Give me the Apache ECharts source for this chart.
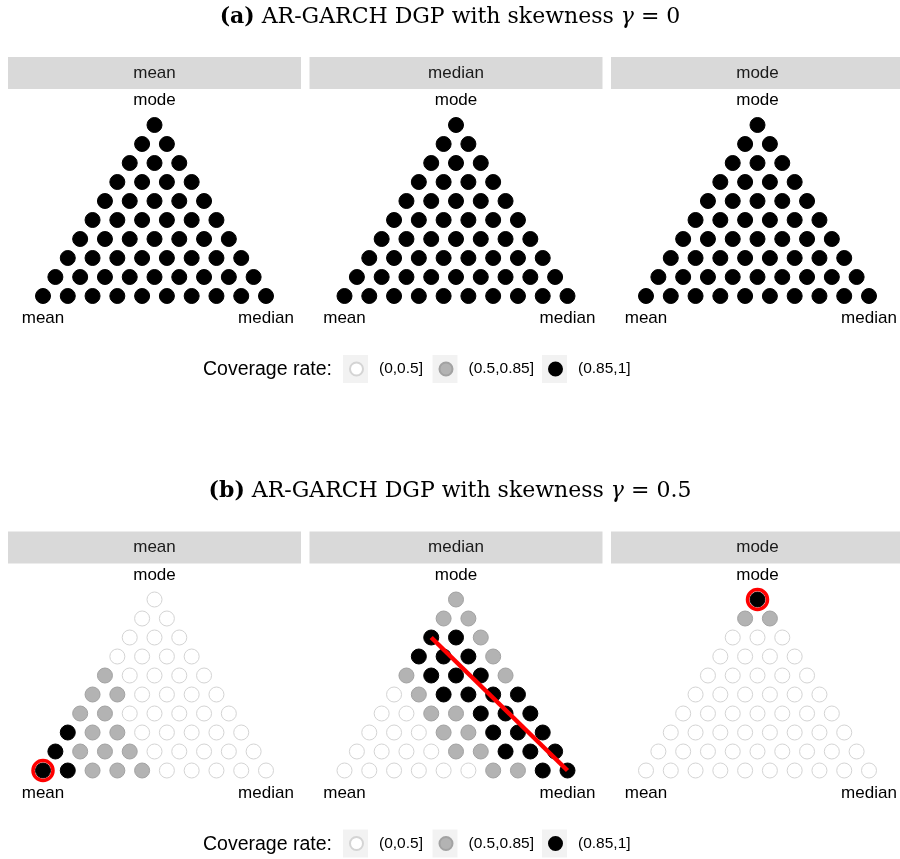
<!DOCTYPE html>
<html>
<head>
<meta charset="utf-8">
<title>Coverage rate triangles</title>
<script src="https://cdn.jsdelivr.net/npm/echarts@6/dist/echarts.min.js"></script>
<style>
  html, body { margin: 0; padding: 0; background: #fff; }
  #chart { width: 900px; height: 859px; }
</style>
</head>
<body>
<div id="chart"></div>
<script>
// coverage-rate classes (legend order)
const levels = ['(0,0.5]', '(0.5,0.85]', '(0.85,1]'];
// facet strips, left to right
const facets = ['mean', 'median', 'mode'];
// corner labels of every triangle
const cornerLeft = 'mean';
const cornerRight = 'median';
const cornerTop = 'mode';
const legendTitle = 'Coverage rate:';
const panelLetters = ['(a)', '(b)'];
const panelTexts = ['AR-GARCH DGP with skewness ', 'AR-GARCH DGP with skewness '];
const panelSkew = ['0', '0.5'];

// class of every dot, one string per row from the mode corner down to the
// mean...median edge; 0 = (0,0.5], 1 = (0.5,0.85], 2 = (0.85,1]
const covA_mean   = ['2','22','222','2222','22222','222222','2222222','22222222','222222222','2222222222'];
const covA_median = ['2','22','222','2222','22222','222222','2222222','22222222','222222222','2222222222'];
const covA_mode   = ['2','22','222','2222','22222','222222','2222222','22222222','222222222','2222222222'];
const covB_mean   = ['0','00','000','0000','10000','110000','1100000','21100000','211100000','2211100000'];
const covB_median = ['1','11','221','2221','12221','012222','0011222','00011222','000011222','0000001122'];
const covB_mode   = ['2','11','000','0000','00000','000000','0000000','00000000','000000000','0000000000'];

// red rings: [panel, facet, row, position in row]
const rings = [[1, 0, 9, 0], [1, 2, 0, 0]];
// red line in panel (b), median facet: two dots [row, position]
const lineFacet = 1;
const lineDots = [[2, 0], [9, 9]];

const covGrids = [
  [covA_mean, covA_median, covA_mode],
  [covB_mean, covB_median, covB_mode]
];

// ternary position of a dot: x = w_median + w_mode / 2, y = w_mode
function dotXY(row, pos) {
  const n = 9;
  return [pos / n + (n - row) / (2 * n), (n - row) / n];
}

const sans = 'Liberation Sans, Arial, Helvetica, sans-serif';
const serif = 'DejaVu Serif, serif';
const dotStyles = [
  { color: '#ffffff', borderColor: '#d4d4d4', borderWidth: 1, opacity: 1 },
  { color: '#b3b3b3', borderColor: '#a2a2a2', borderWidth: 1, opacity: 1 },
  { color: '#000000', borderColor: '#000000', borderWidth: 1, opacity: 1 }
];

// layout
const halfStep = 474.5;
const colStep = 301.5;
const gridLeft0 = 43, gridTop0 = 125, gridW = 223, gridH = 171;
const stripLeft0 = 8, stripTop0 = 57, stripW = 293, stripH = 32;

const grids = [], xAxes = [], yAxes = [], series = [], graphics = [];
const titles = [], legends = [];

for (let h = 0; h < 2; h++) {
  titles.push({
    text: '{b|' + panelLetters[h] + '} ' + panelTexts[h] + '{i|γ} = ' + panelSkew[h],
    left: 'center',
    top: 6 + h * halfStep,
    padding: 0,
    textStyle: {
      fontFamily: serif,
      fontSize: 22,
      fontWeight: 'normal',
      color: '#000',
      rich: {
        b: { fontFamily: serif, fontSize: 22, fontWeight: 'bold', color: '#000' },
        i: { fontFamily: serif, fontSize: 22, fontStyle: 'italic', color: '#000' }
      }
    }
  });
  titles.push({
    text: legendTitle,
    left: 203,
    top: 360 + h * halfStep,
    padding: 0,
    textStyle: { fontFamily: sans, fontSize: 19.5, fontWeight: 'normal', color: '#000' }
  });

  for (let p = 0; p < 3; p++) {
    const g = h * 3 + p;
    grids.push({
      left: gridLeft0 + p * colStep,
      top: gridTop0 + h * halfStep,
      width: gridW,
      height: gridH
    });
    xAxes.push({
      type: 'value', gridIndex: g, position: 'bottom', min: 0, max: 1, interval: 1,
      axisLine: { show: false }, axisTick: { show: false }, splitLine: { show: false },
      axisLabel: {
        margin: 14, fontFamily: sans, fontSize: 17, color: '#000',
        showMinLabel: true, showMaxLabel: true,
        formatter: v => (v === 0 ? cornerLeft : v === 1 ? cornerRight : '')
      }
    });
    yAxes.push({ type: 'value', gridIndex: g, min: 0, max: 1, show: false });

    const rows = covGrids[h][p];
    levels.forEach((name, k) => {
      const data = [];
      rows.forEach((str, r) => {
        for (let j = 0; j < str.length; j++) {
          if (+str[j] === k) data.push(dotXY(r, j));
        }
      });
      series.push({
        name: name, type: 'scatter', xAxisIndex: g, yAxisIndex: g,
        symbol: 'circle', symbolSize: 15, data: data,
        itemStyle: dotStyles[k], emphasis: { disabled: true }, z: 2
      });
    });

    graphics.push({
      type: 'rect', z: 0,
      shape: { x: stripLeft0 + p * colStep, y: stripTop0 + h * halfStep, width: stripW, height: stripH },
      style: { fill: '#d9d9d9' }
    });
    graphics.push({
      type: 'text', z: 1,
      x: stripLeft0 + p * colStep + stripW / 2, y: stripTop0 + h * halfStep + stripH / 2,
      style: { text: facets[p], fontFamily: sans, fontSize: 17, fill: '#1a1a1a', align: 'center', verticalAlign: 'middle' }
    });
  }

  // legend keys: grey backgrounds and one legend per item
  const keyCenters = [355.5, 445, 554.5];
  levels.forEach((name, k) => {
    graphics.push({
      type: 'rect', z: 0,
      shape: { x: keyCenters[k] - 12.5, y: 355 + h * halfStep, width: 25, height: 28 },
      style: { fill: '#f2f2f2' }
    });
    legends.push({
      data: [name], left: keyCenters[k] - 6.5, top: 361 + h * halfStep, padding: 0,
      itemWidth: 13, itemHeight: 13, icon: 'circle', selectedMode: false,
      itemStyle: { opacity: 1 },
      textStyle: { fontFamily: sans, fontSize: 15.5, color: '#000', padding: [0, 0, 0, 11] }
    });
  });
}

// top axes carrying the "mode" corner label
for (let g = 0; g < 6; g++) {
  xAxes.push({
    type: 'value', gridIndex: g, position: 'top', min: 0, max: 1, interval: 0.5,
    axisLine: { show: false }, axisTick: { show: false }, splitLine: { show: false },
    axisLabel: {
      margin: 16, fontFamily: sans, fontSize: 17, color: '#000',
      formatter: v => (v === 0.5 ? cornerTop : '')
    }
  });
}

// red rings
rings.forEach(([h, p, r, j]) => {
  const g = h * 3 + p;
  series.push({
    type: 'scatter', xAxisIndex: g, yAxisIndex: g, symbol: 'circle', symbolSize: 20,
    data: [dotXY(r, j)], silent: true, z: 5,
    itemStyle: { color: 'rgba(0,0,0,0)', borderColor: '#ff0000', borderWidth: 3.5, opacity: 1 }
  });
});

// red line
series.push({
  type: 'line', xAxisIndex: 3 + lineFacet, yAxisIndex: 3 + lineFacet,
  data: lineDots.map(([r, j]) => dotXY(r, j)), symbol: 'none', silent: true, z: 4,
  lineStyle: { color: '#ff0000', width: 4.5 }
});

const chart = echarts.init(document.getElementById('chart'), null, { renderer: 'canvas' });
chart.setOption({
  backgroundColor: '#ffffff',
  animation: false,
  title: titles,
  legend: legends,
  grid: grids,
  xAxis: xAxes,
  yAxis: yAxes,
  series: series,
  graphic: graphics
});
</script>
</body>
</html>
